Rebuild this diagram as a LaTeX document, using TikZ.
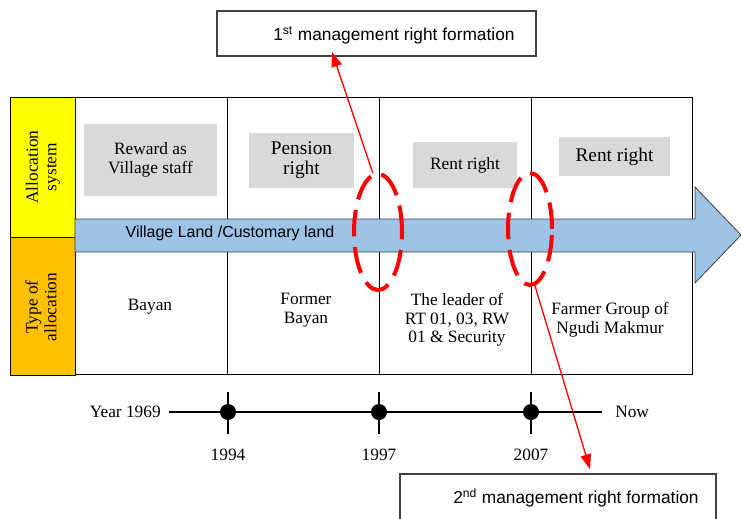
\documentclass[tikz,border=0pt]{standalone}
\usepackage{fontspec}
\setmainfont{Liberation Serif}
\setsansfont{Liberation Sans}
\usetikzlibrary{arrows.meta, shapes.geometric}
\definecolor{bandBlue}{HTML}{9DC3E6}
\definecolor{cellGray}{HTML}{D9D9D9}
\definecolor{sideYellow}{HTML}{FFFF00}
\definecolor{sideOrange}{HTML}{FFC000}
\definecolor{markRed}{HTML}{FF0000}
\definecolor{boxGray}{HTML}{404040}

\begin{document}
\begin{tikzpicture}[
      x=0.75pt, y=-0.75pt,
      font=\rmfamily\fontsize{13}{14}\selectfont,
      cellline/.style={draw=black, line width=0.6pt},
      sidebox/.style={draw=black, line width=0.6pt, fill=#1},
      graybox/.style={fill=cellGray, inner sep=0pt, align=center},
      celltext/.style={align=center, inner sep=0pt, font=\rmfamily\fontsize{13}{14}\selectfont},
      sidelabel/.style={rotate=90, align=center, inner sep=0pt},
      circlemark/.style={ellipse, draw=markRed, line width=3pt,
                         dash pattern=on 20pt off 8pt, inner sep=0pt},
      redarrow/.style={-{Triangle[length=11pt,width=8pt]}, draw=markRed, line width=1pt},
      notebox/.style={draw=boxGray, line width=0.8pt, inner sep=0pt},
      notetext/.style={font=\sffamily\fontsize{13}{14}\selectfont, anchor=west, inner sep=0pt},
      yeardot/.style={circle, fill=black, minimum size=12pt, inner sep=0pt},
      tick/.style={draw=black, line width=0.8pt}
    ]
    \useasboundingbox (0,0) rectangle (741,518);

    % side labels
    \draw[sidebox=sideYellow] (10,97) rectangle (75,237);
    \draw[sidebox=sideOrange] (10,237) rectangle (75,375);
    \node[sidelabel] (alloc) at (43,167) {Allocation\\system};
    \node[sidelabel] (type) at (41,307) {Type of\\allocation};

    % table cells
    \draw[cellline] (75,97) rectangle (692,374);
    \foreach \x in {227,379,531}
      \draw[cellline] (\x,97) -- (\x,374);

    % land band arrow
    \draw[fill=bandBlue, draw=boxGray, line width=0.6pt]
      (75,219) -- (695,219) -- (695,187) -- (741,235) -- (695,283) -- (695,252)
      -- (75,252) -- cycle;
    \node[font=\sffamily\fontsize{12}{14}\selectfont, inner sep=0pt] (land) at (230,233)
      {Village Land /Customary land};

    % allocation system
    \node[graybox, minimum width=99.75pt, minimum height=54pt] (reward) at (150.5,160)
      {Reward as\\Village staff};
    \node[graybox, minimum width=78.75pt, minimum height=41.25pt,
          font=\rmfamily\fontsize{14.5}{15}\selectfont] (pension) at (301.5,160.5) {Pension\\right};
    \node[graybox, minimum width=78pt, minimum height=34.5pt] (rent1) at (465,165) {Rent right};
    \node[graybox, minimum width=83.25pt, minimum height=29.25pt,
          font=\rmfamily\fontsize{14.5}{15}\selectfont] (rent2) at (614.5,156.5) {Rent right};

    % type of allocation
    \node[celltext] (bayan) at (150,307) {Bayan};
    \node[celltext] (former) at (306,310) {Former\\Bayan};
    \node[celltext] (leader) at (457,320) {The leader of\\RT 01, 03, RW\\01 \& Security};
    \node[celltext] (farmer) at (610,320) {Farmer Group of\\Ngudi Makmur};

    % change points
    \node[circlemark, minimum width=36pt, minimum height=87pt] (ell1) at (378,232) {};
    \node[circlemark, minimum width=33pt, minimum height=84pt] (ell2) at (530,229) {};

    % formation notes
    \node[notebox, minimum width=239.25pt, minimum height=33.75pt] (first) at (376.5,33.5) {};
    \node[notetext] (firstlbl) at (273,35) {1\textsuperscript{st} management right formation};
    \node[notebox, minimum width=237pt, minimum height=42pt] (second) at (558,502) {};
    \node[notetext] (secondlbl) at (453,498) {2\textsuperscript{nd} management right formation};
    \coordinate (firstTip) at (332,52);
    \coordinate (secondTip) at (590,469);
    \draw[redarrow] (ell1.95) -- (firstTip);
    \draw[redarrow] (ell2.-85) -- (secondTip);

    % timeline
    \node[anchor=east, inner sep=0pt] (start) at (161,412) {Year 1969};
    \node[anchor=west, inner sep=0pt] (now) at (615,412) {Now};
    \draw[tick] ([xshift=6pt]start.east) -- ([xshift=-9.75pt]now.west);
    \foreach \x/\yr in {228/1994, 379/1997, 531/2007} {
      \draw[tick] (\x,392) -- (\x,434);
      \node[yeardot] (dot\yr) at (\x,412) {};
      \node[inner sep=0pt] (lbl\yr) at (\x,455) {\yr};
    }
  \end{tikzpicture}
\end{document}
